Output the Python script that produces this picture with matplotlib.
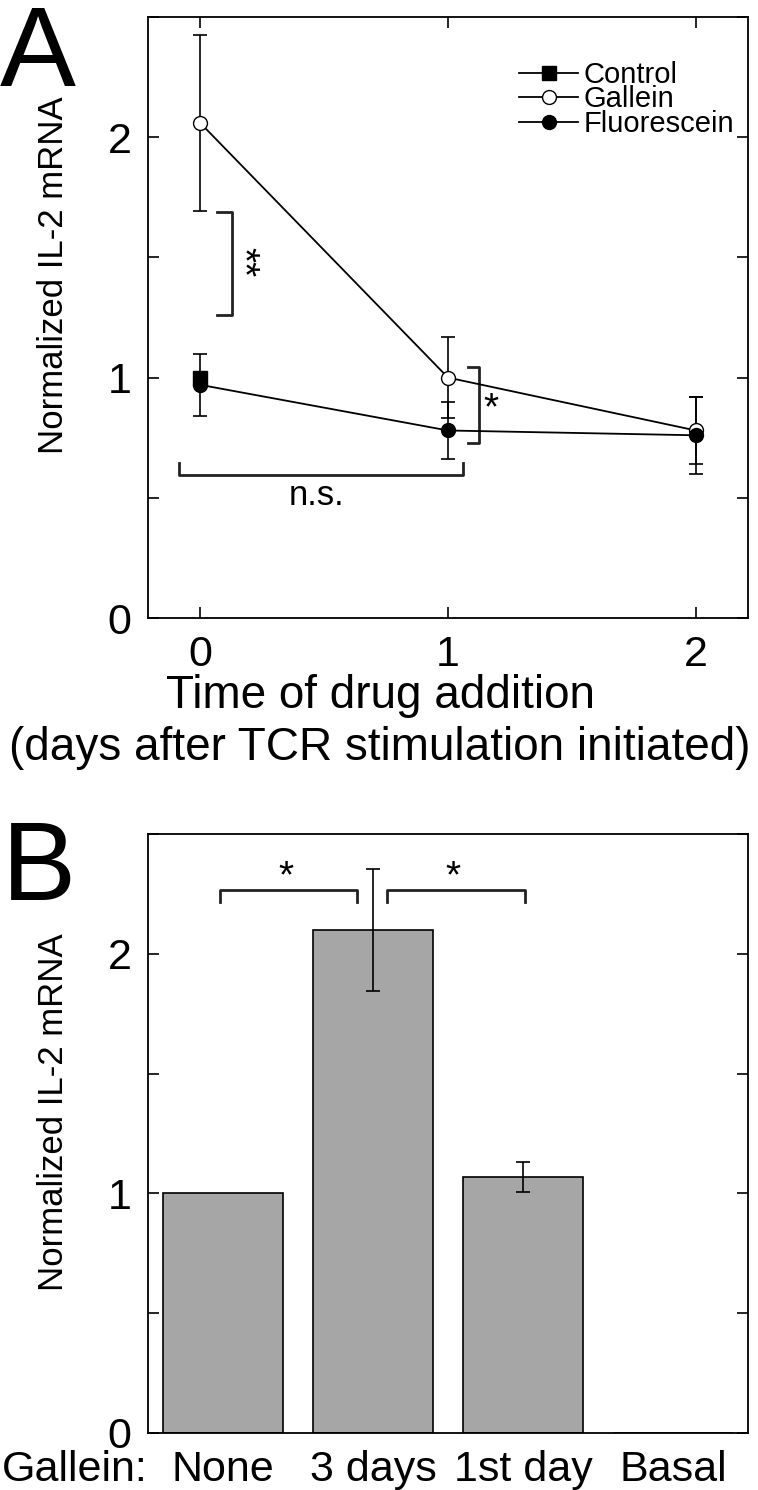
import matplotlib
matplotlib.use("Agg")
import matplotlib.pyplot as plt
from matplotlib import font_manager
from matplotlib.ticker import MultipleLocator

plt.rcParams['font.family'] = ['Liberation Sans', 'DejaVu Sans']

# the y labels in the figure use a narrow face
names = {f.name for f in font_manager.fontManager.ttflist}
if 'Liberation Sans Narrow' in names:
    ylab_font, ylab_size = 'Liberation Sans Narrow', 30
else:
    ylab_font, ylab_size = 'Liberation Sans', 25

# panel A: time of drug addition
days = [0, 1, 2]
control_x = [0]
control_y = [1.0]
gallein_y = [2.06, 1.0, 0.78]
gallein_err = [0.365, 0.17, 0.14]
fluor_y = [0.97, 0.78, 0.76]
fluor_err = [0.13, 0.12, 0.16]

# panel B: gallein treatment
groups = ['None', '3 days', '1st day', 'Basal']
bar_y = [1.0, 2.1, 1.067, 0.0]
bar_err = [0.0, 0.255, 0.062, 0.0]

fig = plt.figure(figsize=(7.58, 14.90), dpi=100)
axA = fig.add_axes([148/758, 1-618/1490, 600/758, 601/1490])
axB = fig.add_axes([148/758, 1-1433/1490, 600/758, 599/1490])

lw = 1.3
eb = dict(fmt='none', ecolor='k', elinewidth=1.2, capsize=5, capthick=1.2)
axA.errorbar(days, gallein_y, yerr=gallein_err, zorder=2, **eb)
axA.errorbar(days, fluor_y, yerr=fluor_err, zorder=2, **eb)
lg, = axA.plot(days, gallein_y, '-o', color='k', mfc='white', mec='k', ms=10, lw=lw,
               zorder=3, label='Gallein')
lc, = axA.plot(control_x, control_y, '-s', color='k', ms=10, lw=lw, zorder=3.5,
               label='Control')
lf, = axA.plot(days, fluor_y, '-o', color='k', mfc='k', ms=10, lw=lw, zorder=4,
               label='Fluorescein')

axA.set_xlim(-0.21, 2.21)
axA.set_ylim(0, 2.5)
axA.xaxis.set_major_locator(MultipleLocator(1))
axA.yaxis.set_major_locator(MultipleLocator(1))
axA.yaxis.set_minor_locator(MultipleLocator(0.5))
axA.tick_params(which='both', direction='in', length=8, width=1.2, top=True, right=True,
                labelsize=31, pad=12)

axA.legend([lc, lg, lf], ['Control', 'Gallein', 'Fluorescein'], loc='upper right',
           bbox_to_anchor=(0.977, 0.927), frameon=False, fontsize=21, labelspacing=-0.12,
           handlelength=2.0, handletextpad=0.2, borderpad=0, borderaxespad=0)

# significance brackets, panel A
bk = dict(color='#222222', lw=2)
axA.plot([0.07, 0.13, 0.13, 0.07], [1.69, 1.69, 1.26, 1.26], **bk)
axA.text(0.17, 1.48, '**', rotation=270, ha='center', va='center', fontsize=28)
axA.plot([1.08, 1.127, 1.127, 1.08], [1.045, 1.045, 0.73, 0.73], **bk)
axA.text(1.175, 0.87, '*', ha='center', va='center', fontsize=28)
axA.plot([-0.085, -0.085, 1.06, 1.06], [0.645, 0.595, 0.595, 0.645], **bk)
axA.text(0.47, 0.51, 'n.s.', ha='center', va='center', fontsize=25)

fig.text(380/758, 1-708/1490, 'Time of drug addition', ha='center', va='baseline',
         fontsize=33)
fig.text(380/758, 1-760/1490, '(days after TCR stimulation initiated)', ha='center',
         va='baseline', fontsize=33)

# panel B
xb = range(len(groups))
axB.bar(xb, bar_y, width=0.8, color='#a6a6a6', edgecolor='k', lw=1.2, zorder=2)
axB.errorbar([1, 2], [bar_y[1], bar_y[2]], yerr=[bar_err[1], bar_err[2]], zorder=3, **eb)
axB.set_xlim(-0.5, 3.5)
axB.set_ylim(0, 2.5)
axB.set_xticks(list(xb))
axB.set_xticklabels(groups)
axB.yaxis.set_major_locator(MultipleLocator(1))
axB.yaxis.set_minor_locator(MultipleLocator(0.5))
axB.tick_params(axis='y', which='both', direction='in', length=8, width=1.2, right=True,
                labelsize=31, pad=12)
axB.tick_params(axis='x', length=0, labelsize=31, pad=12)
axB.text(0.0, -12*1.3889/599, 'Gallein:', transform=axB.transAxes, ha='right', va='top',
         fontsize=31)

axB.plot([-0.02, -0.02, 0.893, 0.893], [2.217, 2.267, 2.267, 2.217], **bk)
axB.plot([1.09, 1.09, 2.01, 2.01], [2.217, 2.267, 2.267, 2.217], **bk)
axB.text(0.42, 2.32, '*', ha='center', va='center', fontsize=28)
axB.text(1.53, 2.32, '*', ha='center', va='center', fontsize=28)

for ax in (axA, axB):
    for s in ax.spines.values():
        s.set_linewidth(1.3)
    ax.set_ylabel('Normalized IL-2 mRNA', family=ylab_font, fontsize=ylab_size)
axA.yaxis.set_label_coords(-0.13, 0.57)
axB.yaxis.set_label_coords(-0.13, 0.535)

fig.text(0, 1-86/1490, 'A', ha='left', va='baseline', fontsize=82)
fig.text(2/758, 1-900/1490, 'B', ha='left', va='baseline', fontsize=80)

fig.savefig('out.png', dpi=100)
